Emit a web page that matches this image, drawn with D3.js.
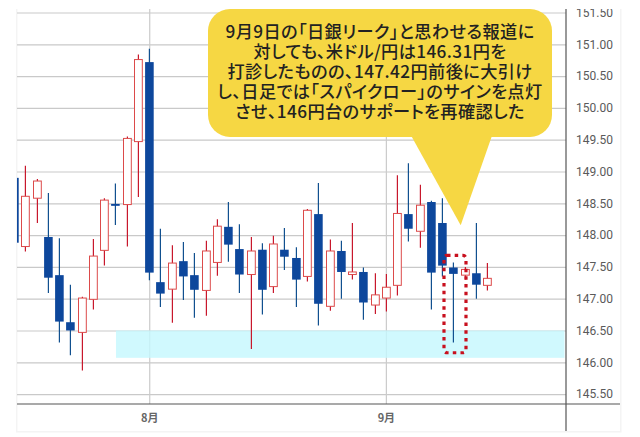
<!DOCTYPE html>
<html><head><meta charset="utf-8">
<script src="https://cdn.jsdelivr.net/npm/d3@7"></script>
<style>html,body{margin:0;padding:0;background:#fff;overflow:hidden}svg{display:block}</style>
</head><body><svg id="c" width="640" height="437"></svg>
<script>
const dates=["07-16","07-17","07-18","07-21","07-22","07-23","07-24","07-25","07-28","07-29","07-30","07-31","08-01","08-04","08-05","08-06","08-07","08-08","08-11","08-12","08-13","08-14","08-15","08-18","08-19","08-20","08-21","08-22","08-25","08-26","08-27","08-28","08-29","09-01","09-02","09-03","09-04","09-05","09-08","09-09","09-10","09-11","09-12"];
const opens=[148.90,147.82,148.58,147.97,147.37,146.63,146.47,146.99,147.76,148.49,148.48,149.47,150.72,147.26,147.15,147.59,147.37,147.13,147.57,148.13,147.78,147.38,147.77,147.19,147.77,147.64,147.35,148.33,146.88,147.75,147.38,147.42,146.90,147.01,147.21,148.33,148.06,148.52,148.19,147.49,147.37,147.40,147.21];
const closes=[147.88,148.61,148.85,147.33,146.64,146.50,147.01,147.67,148.55,148.46,149.52,150.76,147.41,147.08,147.56,147.35,147.14,147.75,148.14,147.85,147.38,147.75,147.14,147.86,147.66,147.30,148.39,146.92,147.75,147.42,147.42,146.94,147.06,147.18,148.34,148.10,148.47,147.41,147.52,147.39,147.46,147.22,147.32];
const highs=[148.90,149.09,148.88,148.66,147.95,147.22,147.03,147.94,148.58,148.81,149.55,150.84,150.93,148.10,147.84,147.89,147.72,147.91,148.25,148.52,148.17,147.97,147.87,147.99,148.11,147.81,148.41,148.82,147.93,147.91,148.19,147.49,147.40,147.39,148.94,149.13,148.79,148.54,148.58,147.57,147.50,148.19,147.56];
const lows=[147.88,147.74,148.19,147.09,146.31,146.11,145.87,146.83,147.52,148.16,147.82,148.60,147.29,146.87,146.62,146.98,146.70,146.73,147.36,147.58,147.09,146.21,146.75,147.09,147.45,146.87,147.27,146.58,146.81,147.00,147.30,146.67,146.76,146.80,147.05,147.90,147.80,146.83,147.35,146.31,147.30,147.00,147.13];
const priceTicks=[145.5,146,146.5,147,147.5,148,148.5,149,149.5,150,150.5,151,151.5];
const monthTicks=["08-01","09-01"];
const monthLabels=["8月","9月"];
const supportBand=[146.07,146.50];
const supportFrom="07-30";
const calloutLines=["9月9日の「日銀リーク」と思わせる報道に","対しても、米ドル/円は146.31円を","打診したものの、147.42円前後に大引け","し、日足では「スパイクロー」のサインを点灯","させ、146円台のサポートを再確認した"];
const highlightDate="09-09";
const highlightRange=[146.15,147.68];

const svg=d3.select("#c");
const L=17,R=566,T=9,B=404,OR=620,OB=431;
const x=d3.scalePoint().domain(dates).range([14,487.3]);
const y=d3.scaleLinear().domain([145.344,151.555]).range([B,T]);
const cx=d=>Math.round(x(d))+0.4;

// outer frame
svg.append("rect").attr("x",16).attr("y",T).attr("width",OR-16+1.5).attr("height",OB-T+1.5).attr("fill","#f4f4f4");
svg.append("rect").attr("x",17.5).attr("y",T).attr("width",OR-17.5).attr("height",OB-T).attr("fill","#fff");

const defs=svg.append("defs");
defs.append("clipPath").attr("id","plot").append("rect").attr("x",L).attr("y",T).attr("width",R-L).attr("height",B-T);
defs.append("clipPath").attr("id","frame").append("rect").attr("x",L).attr("y",T).attr("width",OR-L).attr("height",OB-T);

// grid
const plot=svg.append("g").attr("clip-path","url(#plot)");
const yGrid=plot.append("g").attr("transform",`translate(${R},0)`)
 .call(d3.axisLeft(y).tickValues(priceTicks).tickSize(R-L).tickFormat(""));
yGrid.select(".domain").remove();
yGrid.selectAll("line").attr("stroke","#c9c9c9").attr("stroke-width",1.2);
const xGrid=plot.append("g").attr("transform",`translate(0,${B})`)
 .call(d3.axisTop(x).tickValues(monthTicks).tickSize(B-T).tickFormat(""));
xGrid.select(".domain").remove();
xGrid.selectAll("line").attr("stroke","#cbcbcb").attr("stroke-width",1.2);

// support band
svg.append("rect").attr("x",x(supportFrom)-10.7).attr("width",564.5-(x(supportFrom)-10.7))
 .attr("y",y(supportBand[1])).attr("height",y(supportBand[0])-y(supportBand[1]))
 .attr("fill","#c4f8fe").attr("opacity",0.8);

// candles
const g=svg.append("g").attr("clip-path","url(#plot)");
const rows=dates.map((d,i)=>({d,o:opens[i],c:closes[i],h:highs[i],l:lows[i]}));
const up=r=>r.c>=r.o;
g.selectAll("line.w").data(rows).join("line").attr("class","w")
 .attr("x1",r=>cx(r.d)).attr("x2",r=>cx(r.d)).attr("y1",r=>y(r.h)).attr("y2",r=>y(r.l))
 .attr("stroke",r=>up(r)?"#c8182c":"#11508f").attr("stroke-width",1.2);
g.selectAll("rect.b").data(rows).join("rect").attr("class","b")
 .attr("x",r=>up(r)?cx(r.d)-3.9:cx(r.d)-4.3)
 .attr("width",r=>up(r)?7.8:8.6)
 .attr("y",r=>y(Math.max(r.o,r.c)))
 .attr("height",r=>Math.max(1.5,Math.abs(y(r.o)-y(r.c))))
 .attr("fill",r=>up(r)?"#fff":"#0d479c")
 .attr("stroke",r=>up(r)?"#dc4a4a":"none").attr("stroke-width",1);

// axes
const frame=svg.append("g").attr("clip-path","url(#frame)");
const yAxis=frame.append("g").attr("transform",`translate(${R},0)`)
 .call(d3.axisRight(y).tickValues(priceTicks).tickSize(0).tickPadding(10).tickFormat(d3.format(".2f")));
yAxis.select(".domain").remove();
yAxis.selectAll("text").attr("font-family","Roboto, 'Noto Sans', sans-serif").attr("font-size",12).attr("fill","#5a5a5a");
const xAxis=svg.append("g").attr("transform",`translate(0,${B})`)
 .call(d3.axisBottom(x).tickValues(monthTicks).tickSize(0).tickPadding(8).tickFormat((d,i)=>monthLabels[i]));
xAxis.select(".domain").remove();
xAxis.selectAll("text").attr("font-family","'Noto Sans CJK JP', sans-serif").attr("font-size",11).attr("font-weight",700).attr("fill","#666").attr("dy","0.95em");
svg.append("line").attr("x1",L).attr("x2",OR).attr("y1",B).attr("y2",B).attr("stroke","#555").attr("stroke-width",1.2);
svg.append("line").attr("x1",R).attr("x2",R).attr("y1",T).attr("y2",OB).attr("stroke","#555").attr("stroke-width",1.2);

// highlight box
const hx=x(highlightDate);
svg.append("rect").attr("x",hx-9.5).attr("width",22).attr("y",y(highlightRange[1])).attr("height",y(highlightRange[0])-y(highlightRange[1]))
 .attr("rx",3).attr("fill","none").attr("stroke","#c8101e").attr("stroke-width",3.2).attr("stroke-dasharray","3.5 4.2");

// callout
const co=svg.append("g");
co.append("path").attr("d",d3.line()([[408,130],[494,130],[460.7,225.3]])+"Z").attr("fill","#f6d743");
co.append("rect").attr("x",208).attr("y",T).attr("width",344).attr("height",128).attr("rx",22).attr("fill","#f6d743");
co.selectAll("text").data(calloutLines).join("text")
 .attr("x",380).attr("y",(d,i)=>38+i*20).attr("text-anchor","middle")
 .attr("font-family","'Noto Sans CJK JP', sans-serif").attr("font-size",17.2).attr("font-weight",500)
 .style("font-feature-settings","'palt'").style("letter-spacing","0.4px").attr("fill","#222").text(d=>d);
</script></body></html>
